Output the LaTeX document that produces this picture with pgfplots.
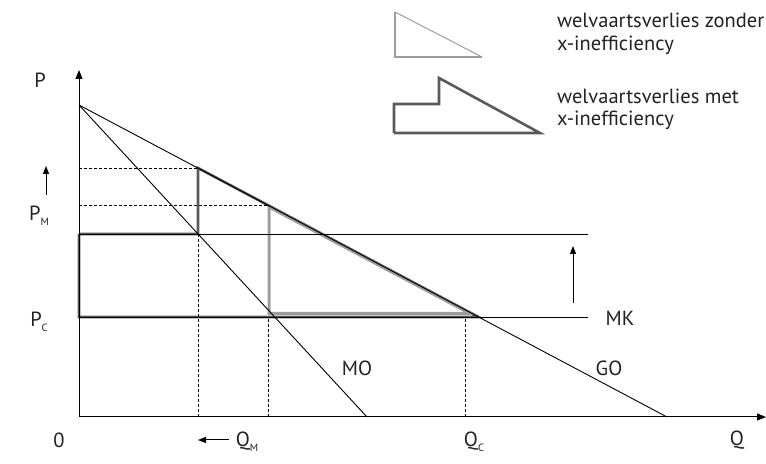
\documentclass[border=0pt]{standalone}
\usepackage{pgfplots}
\pgfplotsset{compat=1.18}
\usepackage{fontspec}
\setmainfont{PT Sans}
\usetikzlibrary{arrows.meta}
\definecolor{dk}{HTML}{5A5A5A}
\definecolor{lt}{HTML}{9C9C9C}
\definecolor{tx}{HTML}{222222}
\newcommand{\lab}{\fontsize{20.5bp}{24bp}\selectfont}
\newcommand{\sub}[1]{\raisebox{-5bp}{\fontsize{10.5bp}{10.5bp}\selectfont #1}}
\begin{document}
\begin{tikzpicture}
\begin{axis}[name=a, x=1bp, y=1bp, xmin=-79, xmax=687, ymin=-47, ymax=417,
  hide axis, enlargelimits=false, clip=false]
% dark polygon (with x-inefficiency)
\addplot[dk, line width=2.6bp, line join=miter] coordinates {(0,183) (119,183) (119,249) (399.5,100) (0,100) (0,183)};
% light triangle (without)
\addplot[lt, line width=3bp, line join=miter] coordinates {(190,210) (190,103.5) (391,103.5) (190,210)};
% axes
\addplot[black, line width=1bp, -{Triangle[length=9bp,width=7bp]}] coordinates {(0,0) (687,0)};
\addplot[black, line width=1bp, -{Triangle[length=9bp,width=7bp]}] coordinates {(0,0) (0,347)};
% demand GO and MO
\addplot[black, line width=0.9bp] coordinates {(0,312) (588,0)};
\addplot[black, line width=0.9bp] coordinates {(0,312) (288,0)};
% cost lines
\addplot[black, line width=0.9bp] coordinates {(0,183) (509,183)};
\addplot[black, line width=0.9bp] coordinates {(0,100) (509,100)};
% dotted
\addplot[black, line width=0.8bp, dash pattern=on 2.5bp off 2.5bp] coordinates {(0,249) (119,249)};
\addplot[black, line width=0.8bp, dash pattern=on 2.5bp off 2.5bp] coordinates {(0,212) (189,212)};
\addplot[black, line width=0.8bp, dash pattern=on 2.5bp off 2.5bp] coordinates {(119,0) (119,183)};
\addplot[black, line width=0.8bp, dash pattern=on 2.5bp off 2.5bp] coordinates {(189,0) (189,100)};
\addplot[black, line width=0.8bp, dash pattern=on 2.5bp off 2.5bp] coordinates {(386,0) (386,100)};
% arrows
\addplot[black, line width=1bp, -{Triangle[length=8bp,width=6bp]}] coordinates {(-33,222) (-33,251)};
\addplot[black, line width=1bp, -{Triangle[length=8bp,width=6bp]}] coordinates {(494,114) (494,171)};
\addplot[black, line width=1bp, -{Triangle[length=8bp,width=6bp]}] coordinates {(150,-23) (119,-23)};
% legend shapes
\addplot[lt, line width=1.4bp, line join=miter] coordinates {(316,405) (316,360) (403,360)};
\addplot[lt, line width=1bp] coordinates {(316,405) (403,360)};
\addplot[dk, line width=2.6bp, line join=miter] coordinates {(315,284) (315,313) (360,313) (360,339) (461,284) (315,284)};
% labels
\node[font=\lab, text=tx] at (axis cs:-39,337) {P};
\node[font=\lab, text=tx] at (axis cs:-40,201) {P\sub{M}};
\node[font=\lab, text=tx] at (axis cs:-40,95) {P\sub{C}};
\node[font=\lab, text=tx] at (axis cs:-20,-23) {0};
\node[font=\lab, text=tx] at (axis cs:168,-25) {Q\sub{M}};
\node[font=\lab, text=tx] at (axis cs:395,-25) {Q\sub{C}};
\node[font=\lab, text=tx] at (axis cs:658,-23) {Q};
\node[font=\lab, text=tx] at (axis cs:541,99) {MK};
\node[font=\lab, text=tx] at (axis cs:278,49) {MO};
\node[font=\lab, text=tx] at (axis cs:530,49) {GO};
\node[font=\lab, text=tx, anchor=west, inner sep=0pt] at (axis cs:478,397) {welvaartsverlies zonder};
\node[font=\lab, text=tx, anchor=west, inner sep=0pt] at (axis cs:478,372) {x-inefficiency};
\node[font=\lab, text=tx, anchor=west, inner sep=0pt] at (axis cs:478,321) {welvaartsverlies met};
\node[font=\lab, text=tx, anchor=west, inner sep=0pt] at (axis cs:478,297) {x-inefficiency};
\end{axis}
\pgfresetboundingbox
\path (a.south west) rectangle (a.north east);
\end{tikzpicture}
\end{document}
